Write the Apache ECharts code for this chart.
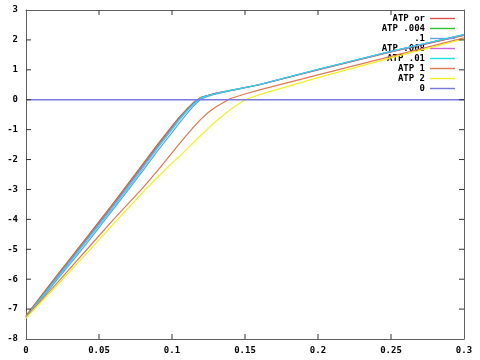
<!DOCTYPE html>
<html>
<head>
<meta charset="utf-8">
<script src="https://cdn.jsdelivr.net/npm/echarts@6/dist/echarts.min.js"></script>
<style>
  html, body { margin: 0; padding: 0; background: #fff; }
  #chart { width: 480px; height: 360px; }
</style>
</head>
<body>
<div id="chart"></div>
<script>
// --- data ---
const xs = [0, 0.02, 0.04, 0.06, 0.08, 0.09, 0.1, 0.105, 0.11, 0.115, 0.12, 0.125, 0.13, 0.14, 0.15, 0.16, 0.2, 0.25, 0.3];
const atpOr  = [-7.22, -5.95, -4.7, -3.45, -2.15, -1.5, -0.88, -0.58, -0.32, -0.08, 0.08, 0.15, 0.21, 0.3, 0.4, 0.5, 1.0, 1.6, 2.15];
const atp004 = [-7.25, -6.0, -4.75, -3.5, -2.2, -1.55, -0.92, -0.6, -0.33, -0.09, 0.08, 0.15, 0.21, 0.31, 0.41, 0.51, 1.01, 1.61, 2.17];
const atp1x  = [-7.3, -6.1, -4.9, -3.65, -2.38, -1.72, -1.1, -0.78, -0.48, -0.2, 0.03, 0.12, 0.19, 0.3, 0.4, 0.5, 1.01, 1.62, 2.18];
const atp008 = [-7.26, -6.02, -4.78, -3.52, -2.24, -1.58, -0.95, -0.63, -0.36, -0.11, 0.07, 0.15, 0.21, 0.31, 0.41, 0.51, 1.01, 1.61, 2.17];
const atp01  = [-7.27, -6.05, -4.82, -3.58, -2.3, -1.63, -1.0, -0.68, -0.4, -0.14, 0.06, 0.14, 0.2, 0.31, 0.41, 0.51, 1.02, 1.62, 2.18];
const atp1   = [-7.27, -6.2, -5.1, -4.0, -2.95, -2.38, -1.78, -1.48, -1.18, -0.9, -0.64, -0.42, -0.24, 0.04, 0.19, 0.33, 0.83, 1.45, 2.07];
const atp2   = [-7.3, -6.27, -5.22, -4.15, -3.1, -2.6, -2.12, -1.9, -1.66, -1.42, -1.18, -0.95, -0.72, -0.33, 0.0, 0.17, 0.74, 1.4, 2.03];
const zeroX  = [0, 0.3];
const zeroY  = [0, 0];

// tick positions (gnuplot draws short inward ticks on all four sides)
const xTicks = [0.05, 0.1, 0.15, 0.2, 0.25];
const yTicks = [-7, -6, -5, -4, -3, -2, -1, 0, 1, 2];

const names  = ['ATP or', 'ATP .004', '.1', 'ATP .008', 'ATP .01', 'ATP 1', 'ATP 2', '0'];
const colors = ['#e05050', '#30c030', '#5ea0f0', '#d060e0', '#20e0e0', '#e07850', '#f0f020', '#7878e0'];

const X_MIN = 0, X_MAX = 0.3, Y_MIN = -8, Y_MAX = 3;

const pairs = (x, y) => x.map((v, i) => [v, y[i]]);
const lines = [
  pairs(xs, atpOr), pairs(xs, atp004), pairs(xs, atp1x), pairs(xs, atp008),
  pairs(xs, atp01), pairs(xs, atp1), pairs(xs, atp2), pairs(zeroX, zeroY)
];

const chart = echarts.init(document.getElementById('chart'), null, { renderer: 'canvas' });

const font = { fontFamily: 'DejaVu Sans Mono', fontWeight: 'bold', fontSize: 9, color: '#000' };
const TICK = 5;

const mkAxis = (kind, pos, labels) => ({
  type: 'value',
  position: pos,
  min: kind === 'x' ? X_MIN : Y_MIN,
  max: kind === 'x' ? X_MAX : Y_MAX,
  interval: kind === 'x' ? 0.05 : 1,
  splitLine: { show: false },
  axisLine: { show: true, onZero: false, lineStyle: { color: '#606060', width: 1 } },
  axisTick: { show: false },
  axisLabel: labels ? Object.assign({ show: true, margin: kind === 'x' ? 7 : 8 }, font) : { show: false }
});

// tick marks as thin rect symbols sitting on the frame, shifted inward
const tickMarks = (data, size, offset) => ({
  type: 'scatter',
  silent: true,
  clip: false,
  z: 10,
  symbol: 'rect',
  symbolSize: size,
  symbolOffset: offset,
  itemStyle: { color: '#303030', opacity: 1 },
  emphasis: { disabled: true },
  data: data
});

chart.setOption({
  backgroundColor: '#fff',
  animation: false,
  grid: { left: 26, right: 16, top: 10, bottom: 21 },
  xAxis: [mkAxis('x', 'bottom', true), mkAxis('x', 'top', false)],
  yAxis: [mkAxis('y', 'left', true), mkAxis('y', 'right', false)],
  legend: {
    orient: 'vertical',
    right: 20,
    top: 9,
    align: 'right',
    itemGap: 1,
    itemWidth: 25,
    itemHeight: 9,
    textStyle: Object.assign({ width: 60, align: 'right', padding: [0, 0, 0, 0] }, font),
    data: names.map(n => ({ name: n, icon: 'path://M0,4.3 L25,4.3 L25,5.7 L0,5.7 Z' }))
  },
  series: names.map((n, i) => ({
    name: n,
    type: 'line',
    data: lines[i],
    symbol: 'none',
    color: colors[i],
    lineStyle: { width: i === 7 ? 1.5 : 1.2, color: colors[i] },
    z: 2 + i
  })).concat([
    tickMarks(xTicks.map(v => [v, Y_MIN]), [1, TICK], [0, -TICK / 2]),
    tickMarks(xTicks.map(v => [v, Y_MAX]), [1, TICK], [0, TICK / 2]),
    tickMarks(yTicks.map(v => [X_MIN, v]), [TICK, 1], [TICK / 2, 0]),
    tickMarks(yTicks.map(v => [X_MAX, v]), [TICK, 1], [-TICK / 2, 0])
  ])
});
</script>
</body>
</html>
